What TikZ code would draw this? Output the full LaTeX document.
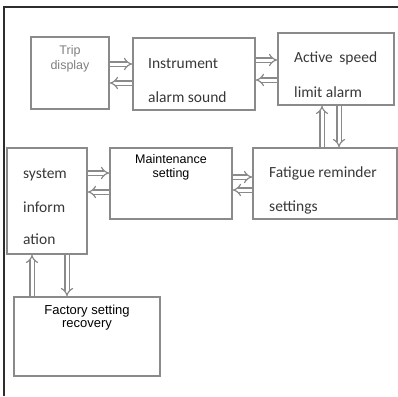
\documentclass[tikz,border=0pt]{standalone}
\usepackage{fontspec}
\setmainfont{Liberation Sans}
\newfontfamily\carlito{Carlito}
\usetikzlibrary{arrows.meta, positioning}
\definecolor{BoxGray}{RGB}{138,138,138}
\definecolor{TextGray}{RGB}{55,55,55}
\definecolor{FrameGray}{RGB}{45,45,45}
\tikzset{
  box/.style={draw=BoxGray, line width=1.4pt, rectangle, inner sep=0pt},
  twin/.style={draw=BoxGray, double=white, double distance=3pt, line width=1.2pt, -{Implies[scale=1.35]}},
  cal/.style={font=\carlito\fontsize{15.5}{18}\selectfont, text=TextGray, inner sep=0pt, anchor=base west},
  ari/.style={font=\fontsize{12.5}{14}\selectfont, inner sep=0pt, anchor=base},
}
\begin{document}
\begin{tikzpicture}[x=1pt, y=-1pt]
  \useasboundingbox (0,0) rectangle (398,396);
  % Frame
  \draw[line width=2pt, FrameGray] (4,396) -- (4,7) -- (398,7);
  % Boxes
  \node[box, minimum width=78, minimum height=72] (trip) at (70,73) {};
  \node[box, minimum width=122, minimum height=72] (instr) at (194,74) {};
  \node[box, minimum width=116, minimum height=72] (speed) at (336,69) {};
  \node[box, minimum width=80, minimum height=106] (sysinfo) at (47,201) {};
  \node[box, minimum width=122, minimum height=71] (maint) at (171,183.5) {};
  \node[box, minimum width=144, minimum height=71] (fatigue) at (325,183.5) {};
  \node[box, minimum width=146, minimum height=79] (factory) at (87,336.5) {};
  % Texts
  \node[ari, text=gray] (tripA) at (70,55) {Trip};
  \node[ari, text=gray] (tripB) at (70,69) {display};
  \node[cal] (instrA) at (148,68) {Instrument};
  \node[cal] (instrB) at (148,102) {alarm sound};
  \node[cal] (speedA) at (294,63) {Active\hspace{3pt} speed};
  \node[cal] (speedB) at (294,97) {limit alarm};
  \node[cal] (sysA) at (23,178) {system};
  \node[cal] (sysB) at (23,212) {inform};
  \node[cal] (sysC) at (23,244) {ation};
  \node[ari] (maintA) at (171,163) {Maintenance};
  \node[ari] (maintB) at (171,177) {setting};
  \node[cal] (fatA) at (269,177) {Fatigue reminder};
  \node[cal] (fatB) at (269,211) {settings};
  \node[ari, font=\fontsize{13}{14}\selectfont] (factA) at (87,314) {Factory setting};
  \node[ari, font=\fontsize{13}{14}\selectfont] (factB) at (87,327) {recovery};
  % Arrows
  \draw[twin] ([yshift=9pt]trip.east) -- ([yshift=9pt]trip.east -| instr.west);
  \draw[twin] ([yshift=-10pt]trip.east -| instr.west) -- ([yshift=-10pt]trip.east);
  \draw[twin] ([yshift=14pt]instr.east) -- ([yshift=14pt]instr.east -| speed.west);
  \draw[twin] ([yshift=-6pt]instr.east -| speed.west) -- ([yshift=-6pt]instr.east);
  \draw[twin] ([xshift=-3pt]fatigue.north) -- ([xshift=-3pt]fatigue.north |- speed.south);
  \draw[twin] ([xshift=3pt]speed.south) -- ([xshift=3pt]speed.south |- fatigue.north);
  \draw[twin] ([yshift=28pt]sysinfo.east) -- ([yshift=28pt]sysinfo.east -| maint.west);
  \draw[twin] ([yshift=9pt]sysinfo.east -| maint.west) -- ([yshift=9pt]sysinfo.east);
  \draw[twin] ([yshift=6.5pt]maint.east) -- ([yshift=6.5pt]maint.east -| fatigue.west);
  \draw[twin] ([yshift=-6.5pt]maint.east -| fatigue.west) -- ([yshift=-6.5pt]maint.east);
  \draw[twin] ([xshift=-55pt]factory.north) -- ([xshift=-55pt]factory.north |- sysinfo.south);
  \draw[twin] ([xshift=20pt]sysinfo.south) -- ([xshift=20pt]sysinfo.south |- factory.north);
\end{tikzpicture}
\end{document}
